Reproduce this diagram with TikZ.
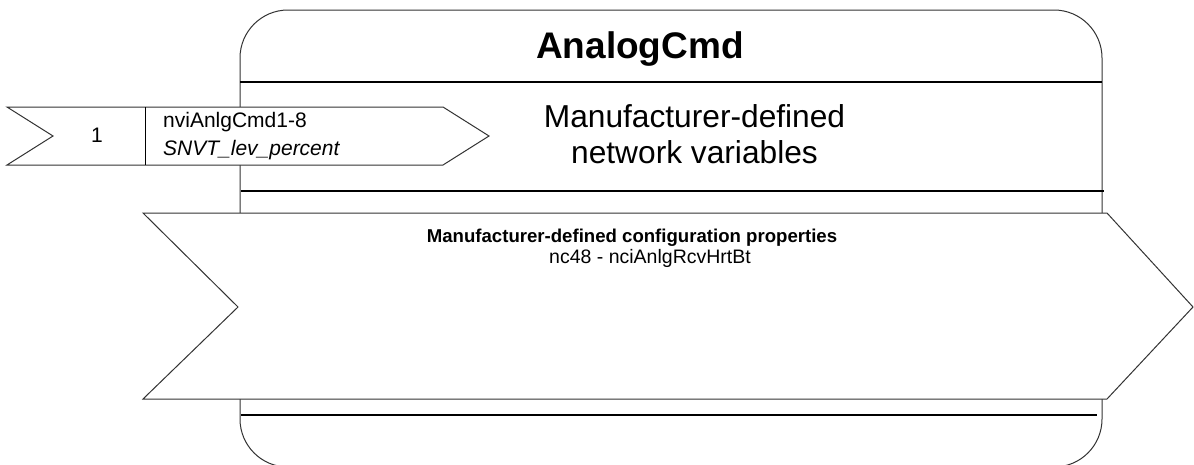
\documentclass[tikz,border=0pt]{standalone}
\usepackage{fontspec}
\setmainfont{Liberation Sans}
\usetikzlibrary{positioning}
\tikzset{
        outline/.style={draw=black!80, line width=1pt},
        % Dividers of the block
        divider/.style={draw=black, line width=1.6pt},
        % Arrow shapes
        arrow_shape/.style={outline, fill=white, line join=miter},
        % Text nodes
        label_text/.style={inner sep=0pt, anchor=base},
        label_left/.style={inner sep=0pt, anchor=base west}
}

\begin{document}
\begin{tikzpicture}[x=1pt, y=-1pt]
    \useasboundingbox (0,0) rectangle (1194,464);
    % Block
    \draw[outline, rounded corners=48pt] (240,10) rectangle (1102,467);
    \draw[divider] (240,82) -- (1102,82);
    \draw[divider] (241,191) -- (1104,191);
    \draw[divider] (241,415) -- (1097,415);
    % Configuration properties
    \draw[arrow_shape] (143,213) -- (1107,213) -- (1193,307) -- (1107,399)
        -- (143,399) -- (238,307) -- cycle;
    % Network variable
    \draw[arrow_shape] (7,107) -- (443,107) -- (489,136) -- (443,165)
        -- (7,165) -- (53,136) -- cycle;
    \draw[outline, draw=black] (145,107) -- (145,165);

    \node[label_text, font=\bfseries\fontsize{37}{42}\selectfont] (title) at (640,58) {AnalogCmd};
    \node[label_text, font=\fontsize{31.7}{36}\selectfont] (nv_head) at (694.5,127) {Manufacturer-defined};
    \node[label_text, font=\fontsize{31.7}{36}\selectfont] (nv_sub) at (694.5,163) {network variables};
    \node[label_text, font=\fontsize{21}{24}\selectfont] (nv_index) at (97,142) {1};
    \node[label_left, font=\fontsize{21}{24}\selectfont] (nv_name) at (163,127) {nviAnlgCmd1-8};
    \node[label_left, font=\itshape\fontsize{21}{24}\selectfont] (nv_type) at (163,155) {SNVT\_lev\_percent};
    \node[label_text, font=\bfseries\fontsize{18.6}{21}\selectfont] (cp_head) at (632,242) {Manufacturer-defined configuration properties};
    \node[label_text, font=\fontsize{19.5}{22}\selectfont] (cp_name) at (650,263) {nc48 - nciAnlgRcvHrtBt};
\end{tikzpicture}
\end{document}
